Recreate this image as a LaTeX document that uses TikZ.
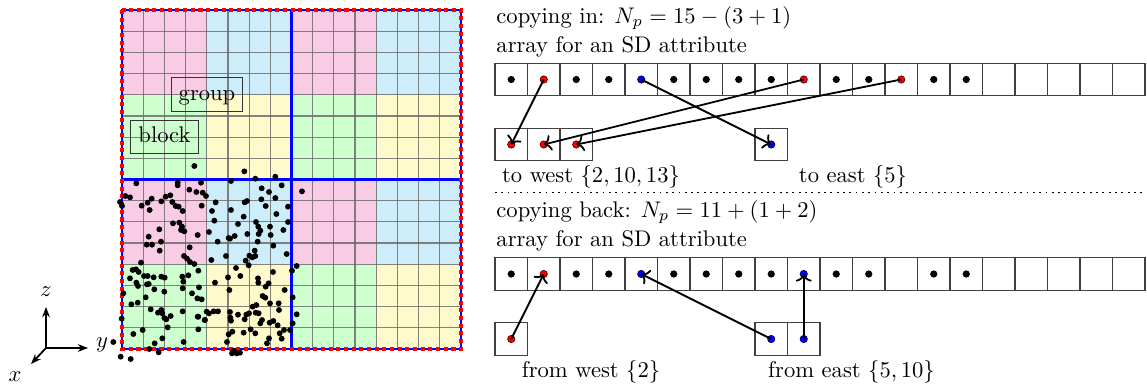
\documentclass[tikz,border=0pt]{standalone}
\usetikzlibrary{arrows.meta}
\definecolor{cpink}{RGB}{249,204,230}
\definecolor{ccyan}{RGB}{204,237,249}
\definecolor{cgreen}{RGB}{206,255,206}
\definecolor{cyell}{RGB}{255,250,204}
\begin{document}
\begin{tikzpicture}[x=0.4425pt,y=-0.4425pt,
  gridline/.style={draw=black!60,line width=0.5pt,opacity=0.8},
  blueline/.style={draw=blue,line width=1.1pt},
  reddash/.style={draw=red,line width=2pt,dash pattern=on 1.8pt off 1.6pt},
  lblbox/.style={draw=black!80,line width=0.45pt,inner xsep=3.33pt,inner ysep=2.9pt,text height=6.94pt,text depth=1.94pt},
  cellbox/.style={draw=black!75,line width=0.5pt,minimum width=14.38pt,minimum height=14.38pt,inner sep=0pt,outer sep=0pt},
  bdot/.style={circle,fill=black,inner sep=0pt,minimum size=3.2pt},
  rdot/.style={circle,fill=red,draw=black!60!red,line width=0.35pt,inner sep=0pt,minimum size=3.2pt},
  bldot/.style={circle,fill=blue,draw=black!60!blue,line width=0.35pt,inner sep=0pt,minimum size=3.2pt},
  arr/.style={->,thick},
  axis/.style={-{Stealth[length=4.5pt,width=3.4pt]},thick},
  txt/.style={inner sep=0pt,anchor=base west},
  sep/.style={dotted,line width=0.8pt}
]
\useasboundingbox (0,0) rectangle (1147,387);

% ---------- coloured groups ----------
\foreach \i/\j/\c in {0/0/cpink,1/0/ccyan,2/0/cpink,3/0/ccyan,
                      0/1/cgreen,1/1/cyell,2/1/cgreen,3/1/cyell,
                      0/2/cpink,1/2/ccyan,2/2/cpink,3/2/ccyan,
                      0/3/cgreen,1/3/cyell,2/3/cgreen,3/3/cyell}
  \fill[\c] ({122+84.75*\i},{10+84.75*\j}) rectangle ++(84.75,84.75);

% ---------- cell grid ----------
\foreach \k in {0,...,16} {
  \draw[gridline] ({122+21.1875*\k},10) -- ({122+21.1875*\k},349);
  \draw[gridline] (122,{10+21.1875*\k}) -- (461,{10+21.1875*\k});
}

% ---------- blue subdomain lines ----------
\draw[blueline] (122,10) rectangle (461,349);
\draw[blueline] (291.5,10) -- (291.5,349);
\draw[blueline] (122,179.5) -- (461,179.5);

% ---------- labels ----------
\node[lblbox] (group) at (207,94.5) {group};
\node[lblbox] (block) at (164.5,137) {block};

% ---------- red dashed boundary ----------
\draw[reddash] (122,10) rectangle (461,349);

% ---------- particles ----------
\foreach \p/\q in {583/498,733/514,766/536,826/530,693/543,533/548,533/556,603/548,409/550,845/556,
  785/565,568/569,589/576,608/578,618/588,807/576,906/574,376/588,390/592,360/606,
  366/618,443/608,455/596,484/604,497/590,511/586,517/606,527/618,536/620,548/633,
  425/617,449/630,605/617,647/607,636/633,693/630,734/607,741/603,784/598,826/594,
  797/618,864/620,829/642,643/662,731/650,714/672,768/666,775/680,781/692,810/680,
  850/690,864/666,519/670,538/668,546/680,553/694,543/690,593/705,478/688,446/710,
  483/725,440/734,456/734,479/752,627/696,653/725,686/714,690/716,704/708,742/702,
  776/702,773/725,812/705,820/737,764/752,748/767,757/772,766/768,737/782,746/796,
  634/780,678/768,860/762,569/742,552/768,561/776,570/786,583/792,423/788,398/810,
  408/808,416/816,432/828,443/828,446/852,461/832,484/830,494/833,547/830,565/826,
  595/812,550/845,390/835,409/848,414/858,441/853,370/880,463/868,493/875,548/865,
  597/862,576/880,592/895,605/898,645/848,684/832,721/828,708/804,819/816,774/835,
  806/850,797/860,775/848,854/870,688/870,876/812,890/798,878/892,788/888,796/893,
  810/910,836/910,769/915,776/940,767/938,758/920,747/940,739/944,714/944,690/936,
  691/953,693/962,654/934,641/934,627/940,620/935,614/960,595/950,548/934,512/948,
  493/954,487/940,484/930,474/938,452/928,437/892,413/908,394/913,365/956,400/1002,
  428/990,499/958,503/982,487/1015,464/1030,448/1047,476/1057,551/1026,595/988,593/950,
  615/960,681/1026,686/1003,697/995,731/998,752/988,766/1000,781/970,786/960,809/968,
  820/963,833/976,839/1000,852/990,807/1015,845/1016,870/990,878/970,890/943,837/930,
  734/958,710/1060,720/1058,701/1052,696/1060,362/1070,392/1077,340/1026,801/1030}
  \fill ({\p/3},{\q/3}) circle[radius=1.3pt];

% ---------- axes ----------
\coordinate (O) at (46,348);
\coordinate (Z) at (46,307);
\coordinate (Y) at (88,348);
\coordinate (X) at (31,364);
\draw[axis] (O) -- (Z);
\draw[axis] (O) -- (Y);
\draw[axis] (O) -- (X);
\node (zl) at (46,292) {$z$};
\node (yl) at (102,345) {$y$};
\node (xl) at (15,377) {$x$};

% ---------- copying in ----------
\node[txt] (tin) at (496,23) {copying in: $N_p = 15-(3+1)$};
\node[txt] (tarr1) at (496,52.5) {array for an SD attribute};
\foreach \k in {1,...,20}
  \node[cellbox] (t\k) at ({478.75+32.5*\k},79.5) {};
\foreach \k in {1,3,4,6,7,8,9,11,12,14,15}
  \node[bdot] (td\k) at (t\k) {};
\node[rdot] (td2) at (t2) {};
\node[rdot] (td10) at (t10) {};
\node[rdot] (td13) at (t13) {};
\node[bldot] (td5) at (t5) {};

\node[cellbox] (w1) at (511.25,144.5) {};
\node[cellbox] (w2) at (543.75,144.5) {};
\node[cellbox] (w3) at (576.25,144.5) {};
\node[cellbox] (e1) at (771.25,144.5) {};
\node[rdot] (wd1) at (w1) {};
\node[rdot] (wd2) at (w2) {};
\node[rdot] (wd3) at (w3) {};
\node[bldot] (ed1) at (e1) {};

\draw[arr] (td2.center) -- (wd1.center);
\draw[arr] (td10.center) -- (wd2.center);
\draw[arr] (td13.center) -- (wd3.center);
\draw[arr] (td5.center) -- (ed1.center);

\node (lw) at (591,177) {to west $\{2,10,13\}$};
\node (le) at (853,177) {to east $\{5\}$};

% ---------- separator ----------
\coordinate (s1) at (495,192.5);
\coordinate (s2) at (1145,192.5);
\draw[sep] (s1) -- (s2);

% ---------- copying back ----------
\node[txt] (tback) at (496,217) {copying back: $N_p = 11+(1+2)$};
\node[txt] (tarr2) at (496,246) {array for an SD attribute};
\foreach \k in {1,...,20}
  \node[cellbox] (b\k) at ({478.75+32.5*\k},274) {};
\foreach \k in {1,3,4,6,7,8,9,11,12,14,15}
  \node[bdot] (bd\k) at (b\k) {};
\node[rdot] (bd2) at (b2) {};
\node[bldot] (bd5) at (b5) {};
\node[bldot] (bd10) at (b10) {};

\node[cellbox] (bw1) at (511.25,339) {};
\node[cellbox] (be1) at (771.25,339) {};
\node[cellbox] (be2) at (803.75,339) {};
\node[rdot] (bwd1) at (bw1) {};
\node[bldot] (bed1) at (be1) {};
\node[bldot] (bed2) at (be2) {};

\draw[arr] (bwd1.center) -- (bd2.center);
\draw[arr] (bed1.center) -- (bd5.center);
\draw[arr] (bed2.center) -- (bd10.center);

\node (lfw) at (591,372) {from west $\{2\}$};
\node (lfe) at (851.5,372) {from east $\{5,10\}$};
\end{tikzpicture}
\end{document}
